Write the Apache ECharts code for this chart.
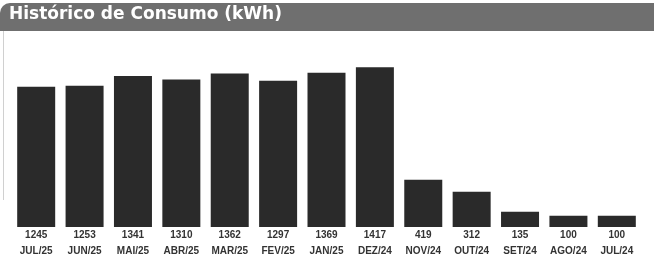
<!DOCTYPE html>
<html lang="pt">
<head>
    <meta charset="UTF-8">
    <title>Histórico de Consumo</title>
    <script src="https://cdn.jsdelivr.net/npm/echarts@6/dist/echarts.min.js"></script>
    <style>
        * { margin: 0; padding: 0; }
        body { background: #fff; }
        #chart { width: 654px; height: 258px; }
    </style>
</head>
<body>
    <div id="chart"></div>
    <script>
        const months = ['JUL/25', 'JUN/25', 'MAI/25', 'ABR/25', 'MAR/25', 'FEV/25', 'JAN/25',
            'DEZ/24', 'NOV/24', 'OUT/24', 'SET/24', 'AGO/24', 'JUL/24'];
        const consumo = [1245, 1253, 1341, 1310, 1362, 1297, 1369, 1417, 419, 312, 135, 100, 100];

        const chart = echarts.init(document.getElementById('chart'), null, { renderer: 'canvas' });

        const option = {
            backgroundColor: '#ffffff',
            animation: false,
            grid: { left: 12, right: 13, top: 58, bottom: 31 },
            graphic: [
                {
                    type: 'rect',
                    shape: { x: 0, y: 3, width: 654, height: 28, r: [10, 0, 0, 0] },
                    style: { fill: '#6f6f6f' }
                },
                {
                    type: 'line',
                    shape: { x1: 3.5, y1: 31, x2: 3.5, y2: 200 },
                    style: { stroke: '#d0d0d0', lineWidth: 1 }
                },
                {
                    type: 'text',
                    left: 9,
                    top: 6,
                    style: {
                        text: 'Histórico de Consumo (kWh)',
                        fill: '#ffffff',
                        font: 'bold 17px "DejaVu Sans"'
                    }
                }
            ],
            xAxis: {
                type: 'category',
                data: months,
                axisLine: { show: false },
                axisTick: { show: false },
                axisLabel: {
                    interval: 0,
                    margin: 0,
                    formatter: (value, idx) => '{v|' + consumo[idx] + '}\n{m|' + value + '}',
                    rich: {
                        v: { fontFamily: 'Liberation Sans', fontSize: 10, fontWeight: 'bold', color: '#333', lineHeight: 16 },
                        m: { fontFamily: 'Liberation Sans', fontSize: 10, fontWeight: 'bold', color: '#333', lineHeight: 16 }
                    }
                }
            },
            yAxis: {
                type: 'value',
                min: 0,
                max: 1500,
                show: false,
                splitLine: { show: false }
            },
            series: [{
                type: 'bar',
                data: consumo,
                barWidth: 38,
                itemStyle: { color: '#2a2a2a' }
            }]
        };

        chart.setOption(option);
    </script>
</body>
</html>
